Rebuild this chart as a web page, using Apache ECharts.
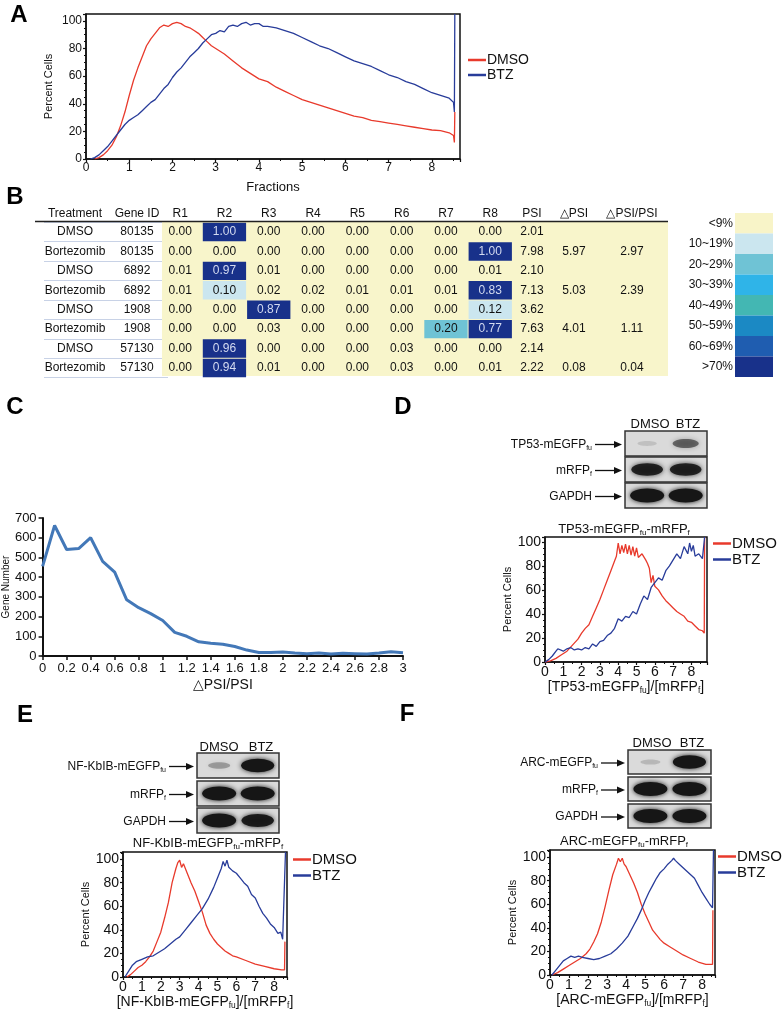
<!DOCTYPE html>
<html>
<head>
<meta charset="utf-8">
<script src="https://cdn.jsdelivr.net/npm/echarts@6/dist/echarts.min.js"></script>
<style>
  html, body { margin: 0; padding: 0; background: #fff; }
  #main { width: 784px; height: 1011px; }
</style>
</head>
<body>
<div id="main"></div>
<script>
// ---------- A: fractions histogram ----------
const aDmso = [[0.2,0],[0.3,1],[0.4,3],[0.5,6],[0.6,10],[0.7,16],[0.8,24],[0.9,34],[1.0,46],[1.1,57],[1.2,66],[1.3,74],[1.4,82],[1.5,87],[1.6,91],[1.7,95],[1.8,97],[1.9,96],[2.0,98],[2.1,99],[2.2,98],[2.3,96],[2.4,95],[2.5,93],[2.6,91],[2.7,88],[2.8,85],[2.9,82],[3.0,80],[3.2,76],[3.4,71],[3.6,66],[3.8,62],[4.0,58],[4.2,56],[4.4,52],[4.6,49],[4.8,46],[5.0,43],[5.2,41],[5.4,39],[5.6,37],[5.8,35],[6.0,33],[6.2,31],[6.4,30],[6.6,28],[6.8,27],[7.0,26],[7.2,25],[7.4,24],[7.6,23],[7.8,22],[8.0,21],[8.2,20.5],[8.4,19],[8.5,17],[8.52,12],[8.53,34]];
const aBtz = [[0.1,0],[0.2,1],[0.3,3],[0.4,6],[0.5,9],[0.6,13],[0.7,17],[0.8,21],[0.9,25],[1.0,28],[1.1,30],[1.2,32],[1.3,35],[1.4,38],[1.5,41],[1.6,43],[1.7,47],[1.8,51],[1.9,54],[2.0,59],[2.1,63],[2.2,66],[2.3,70],[2.4,74],[2.5,77],[2.6,80],[2.7,84],[2.8,87],[2.9,90],[3.0,91],[3.1,93],[3.2,92],[3.3,96],[3.4,97],[3.5,96],[3.6,98],[3.7,99],[3.8,97],[3.9,98],[4.0,98],[4.1,96],[4.2,96],[4.4,95],[4.6,93],[4.8,91],[5.0,88],[5.2,85],[5.4,82],[5.6,80],[5.8,77],[6.0,74],[6.2,71],[6.4,69],[6.6,67],[6.8,64],[7.0,61],[7.2,59],[7.4,56],[7.6,54],[7.8,51],[8.0,48],[8.2,46],[8.4,44],[8.5,41],[8.52,34],[8.53,105]];

// ---------- B: table ----------
const treatments = ['DMSO', 'Bortezomib', 'DMSO', 'Bortezomib', 'DMSO', 'Bortezomib', 'DMSO', 'Bortezomib'];
const geneIds = ['80135', '80135', '6892', '6892', '1908', '1908', '57130', '57130'];
const rCols = ['R1', 'R2', 'R3', 'R4', 'R5', 'R6', 'R7', 'R8'];
const rValues = [
  [0.00, 1.00, 0.00, 0.00, 0.00, 0.00, 0.00, 0.00],
  [0.00, 0.00, 0.00, 0.00, 0.00, 0.00, 0.00, 1.00],
  [0.01, 0.97, 0.01, 0.00, 0.00, 0.00, 0.00, 0.01],
  [0.01, 0.10, 0.02, 0.02, 0.01, 0.01, 0.01, 0.83],
  [0.00, 0.00, 0.87, 0.00, 0.00, 0.00, 0.00, 0.12],
  [0.00, 0.00, 0.03, 0.00, 0.00, 0.00, 0.20, 0.77],
  [0.00, 0.96, 0.00, 0.00, 0.00, 0.03, 0.00, 0.00],
  [0.00, 0.94, 0.01, 0.00, 0.00, 0.03, 0.00, 0.01]
];
const psi = [2.01, 7.98, 2.10, 7.13, 3.62, 7.63, 2.14, 2.22];
const dPsi = [null, 5.97, null, 5.03, null, 4.01, null, 0.08];
const dPsiRatio = [null, 2.97, null, 2.39, null, 1.11, null, 0.04];
const binLabels = ['<9%', '10~19%', '20~29%', '30~39%', '40~49%', '50~59%', '60~69%', '>70%'];

// ---------- C: ΔPSI/PSI distribution ----------
const cRatio = [0, 0.1, 0.2, 0.3, 0.4, 0.5, 0.6, 0.7, 0.8, 0.9, 1.0, 1.1, 1.2, 1.3, 1.4, 1.5, 1.6, 1.7, 1.8, 1.9, 2.0, 2.1, 2.2, 2.3, 2.4, 2.5, 2.6, 2.7, 2.8, 2.9, 3.0];
const cGenes = [455, 662, 540, 545, 600, 480, 425, 285, 245, 215, 180, 120, 100, 72, 65, 60, 48, 30, 18, 18, 20, 15, 12, 15, 10, 14, 12, 10, 15, 22, 17];

// ---------- D / E / F: reporter histograms ----------
const dDmso = [[0,0],[0.3,1],[0.6,3],[0.9,6],[1.2,9],[1.5,14],[1.8,19],[2.0,24],[2.2,28],[2.4,31],[2.6,38],[2.8,45],[3.0,52],[3.2,60],[3.4,68],[3.6,76],[3.8,84],[3.9,88],[4.0,99],[4.1,90],[4.2,97],[4.3,91],[4.4,98],[4.5,90],[4.6,97],[4.7,89],[4.8,96],[4.9,88],[5.0,95],[5.1,87],[5.3,90],[5.5,85],[5.6,82],[5.7,78],[5.8,66],[5.9,72],[6.0,63],[6.2,60],[6.4,55],[6.6,51],[6.8,48],[7.0,45],[7.2,42],[7.4,40],[7.6,38],[7.8,34],[8.0,33],[8.2,30],[8.4,27],[8.6,26],[8.7,24],[8.72,104]];
const dBtz = [[0,0],[0.2,2],[0.4,5],[0.6,9],[0.7,11],[0.8,10],[1.0,9],[1.2,11],[1.4,12],[1.6,10],[1.8,11],[2.0,10],[2.2,12],[2.4,11],[2.6,15],[2.8,13],[3.0,17],[3.2,18],[3.4,22],[3.6,24],[3.8,28],[4.0,36],[4.2,34],[4.4,38],[4.6,37],[4.8,42],[5.0,40],[5.2,48],[5.4,55],[5.6,52],[5.8,62],[6.0,66],[6.2,70],[6.4,68],[6.6,76],[6.8,80],[7.0,85],[7.2,90],[7.4,86],[7.6,96],[7.8,90],[7.9,99],[8.0,92],[8.1,97],[8.2,88],[8.4,90],[8.6,86],[8.7,87],[8.72,104]];
const eDmso = [[0.2,0],[0.4,2],[0.6,5],[0.8,8],[1.0,10],[1.2,13],[1.4,17],[1.6,22],[1.8,30],[2.0,38],[2.2,50],[2.4,63],[2.6,80],[2.8,92],[2.9,97],[3.0,99],[3.1,93],[3.2,96],[3.4,88],[3.6,80],[3.8,73],[4.0,64],[4.2,55],[4.4,44],[4.6,37],[4.8,32],[5.0,28],[5.2,25],[5.4,22],[5.6,20],[5.8,18],[6.0,17],[6.5,14],[7.0,11],[7.5,9],[8.0,7],[8.4,6],[8.55,6],[8.57,30]];
const eBtz = [[0.1,0],[0.3,5],[0.5,10],[0.7,13],[1.0,15],[1.3,17],[1.6,18],[1.9,21],[2.2,24],[2.5,28],[2.8,32],[3.0,34],[3.3,40],[3.6,46],[3.9,52],[4.2,58],[4.5,66],[4.8,76],[5.0,84],[5.2,92],[5.3,98],[5.4,94],[5.5,99],[5.6,93],[5.8,90],[6.0,88],[6.2,84],[6.4,80],[6.6,77],[6.8,70],[7.0,67],[7.2,60],[7.4,54],[7.6,50],[7.8,45],[8.0,42],[8.2,37],[8.35,38],[8.45,32],[8.55,33],[8.6,106]];
const fDmso = [[0.1,0],[0.4,2],[0.7,5],[1.0,8],[1.3,11],[1.6,14],[1.9,18],[2.1,22],[2.3,28],[2.5,35],[2.7,45],[2.9,58],[3.1,72],[3.3,85],[3.5,94],[3.6,99],[3.7,96],[3.8,99],[3.9,94],[4.0,92],[4.2,85],[4.4,78],[4.6,70],[4.8,60],[5.0,52],[5.2,45],[5.4,38],[5.6,34],[5.8,30],[6.0,27],[6.3,24],[6.6,21],[7.0,17],[7.4,14],[7.8,11],[8.2,9],[8.55,9],[8.57,55]];
const fBtz = [[0.1,0],[0.3,4],[0.5,8],[0.7,12],[0.9,14],[1.1,16],[1.3,15],[1.5,16],[1.7,15],[2.0,14],[2.3,13],[2.6,14],[2.9,16],[3.2,18],[3.5,22],[3.8,27],[4.1,33],[4.4,42],[4.6,48],[4.8,55],[5.0,63],[5.2,70],[5.4,76],[5.6,82],[5.8,87],[6.0,90],[6.2,94],[6.4,97],[6.5,99],[6.6,97],[6.8,94],[7.0,91],[7.2,88],[7.4,85],[7.6,82],[7.8,76],[8.0,70],[8.2,65],[8.4,60],[8.55,57],[8.6,106]];

// western blot band strength (rows: reporter, mRFPf, GAPDH; lanes: DMSO, BTZ)
const blotD = [[0.08, 0.5], [0.85, 0.85], [1, 1]];
const blotE = [[0.25, 0.95], [1, 1], [1, 0.9]];
const blotF = [[0.12, 0.95], [1, 1], [1, 1]];

// ---------- style ----------
const font = 'Liberation Sans, Arial, sans-serif';
const red = '#e83a2c';
const blue = '#283c9a';
const ink = '#111';
const subRich = (n, s) => ({
  n: { fontSize: n, fontFamily: font, color: ink },
  s: { fontSize: s, fontFamily: font, color: ink, verticalAlign: 'bottom', padding: [0, 0, -1, 0] }
});

const chart = echarts.init(document.getElementById('main'), null, { renderer: 'canvas' });

function flowX(gi, xmax, fs, name, nameFs, gap) {
  return {
    type: 'value', gridIndex: gi, min: 0, max: xmax, interval: 1,
    axisLine: { show: true, onZero: false, lineStyle: { color: ink, width: 1.5 } },
    axisTick: { show: true, length: 3, lineStyle: { color: ink, width: 1.2 } },
    minorTick: { show: true, splitNumber: 2, length: 2, lineStyle: { color: ink } },
    splitLine: { show: false },
    axisLabel: { fontSize: fs, color: ink, margin: 3, showMaxLabel: false, fontFamily: font },
    name: name, nameLocation: 'middle', nameGap: gap,
    nameTextStyle: { fontSize: nameFs, color: ink, fontFamily: font, rich: subRich(nameFs, nameFs * 0.6) }
  };
}
function flowY(gi, ymax, fs, nameFs, gap) {
  return {
    type: 'value', gridIndex: gi, min: 0, max: ymax, interval: 20,
    axisLine: { show: true, onZero: false, lineStyle: { color: ink, width: 1.5 } },
    axisTick: { show: true, length: 3, lineStyle: { color: ink, width: 1.2 } },
    minorTick: { show: true, splitNumber: 4, length: 2, lineStyle: { color: ink } },
    splitLine: { show: false },
    axisLabel: { fontSize: fs, color: ink, margin: 4, showMaxLabel: false, fontFamily: font },
    name: 'Percent Cells', nameLocation: 'middle', nameGap: gap,
    nameTextStyle: { fontSize: nameFs, color: ink, fontFamily: font }
  };
}
function flowLine(name, gi, data, color) {
  return {
    name: name, type: 'line', xAxisIndex: gi, yAxisIndex: gi, data: data,
    showSymbol: false, symbol: 'none', clip: true,
    lineStyle: { color: color, width: 1.3 }, itemStyle: { color: color }
  };
}
function legendAt(left, top, fs) {
  return {
    left: left, top: top, orient: 'vertical', icon: 'rect', itemWidth: 18, itemHeight: 2.5,
    itemGap: 1, padding: 0, selectedMode: false, data: ['DMSO', 'BTZ'],
    textStyle: { fontSize: fs, color: ink, fontFamily: font, padding: [0, 0, 0, -4] }
  };
}
function tableCatX(gi, cols) {
  return {
    type: 'category', gridIndex: gi, position: 'top', data: cols,
    axisLine: { show: false }, axisTick: { show: false },
    axisLabel: { fontSize: 12, color: ink, margin: 3, fontFamily: font, interval: 0 }
  };
}
function tableCatY(gi, lines) {
  return {
    type: 'category', gridIndex: gi, inverse: true, data: treatments.map((t, i) => i),
    axisLine: { show: false }, axisTick: { show: false }, axisLabel: { show: false },
    splitLine: { show: lines, lineStyle: { color: '#c8d2e6', width: 1 } }
  };
}
function textCells(gi, columns) {
  const data = [];
  columns.forEach((col, c) => col.forEach((v, r) => {
    if (v === null) return;
    data.push({ value: [c, r], name: typeof v === 'number' ? v.toFixed(2) : v });
  }));
  return {
    type: 'scatter', xAxisIndex: gi, yAxisIndex: gi, data: data, symbolSize: 1,
    itemStyle: { color: 'rgba(0,0,0,0)', opacity: 1 },
    label: { show: true, position: 'inside', formatter: '{b}', fontSize: 12, color: ink, fontFamily: font }
  };
}

const rData = [];
rValues.forEach((row, r) => row.forEach((v, c) => rData.push([c, r, v])));

// ---------- decorations: panel letters, blots, titles ----------
const g = [];
function letter(ch, x, y) {
  g.push({ type: 'text', x: x, y: y, z: 100, style: { text: ch, fontSize: 24, fontWeight: 'bold', fontFamily: font, fill: '#000', align: 'center', verticalAlign: 'middle' } });
}
function label(text, x, y, size, align, rich) {
  g.push({ type: 'text', x: x, y: y, z: 100, style: { text: text, fontSize: size, fontFamily: font, fill: ink, align: align || 'center', verticalAlign: 'middle', rich: rich } });
}
function arrow(x1, x2, y) {
  g.push({ type: 'line', z: 100, shape: { x1: x1, y1: y, x2: x2 - 5, y2: y }, style: { stroke: ink, lineWidth: 1.3 } });
  g.push({ type: 'polygon', z: 100, shape: { points: [[x2 - 8, y - 3.5], [x2, y], [x2 - 8, y + 3.5]] }, style: { fill: ink } });
}
function blot(x, w, tops, h, bands, lanes) {
  tops.forEach((t, r) => {
    g.push({ type: 'rect', z: 100, shape: { x: x, y: t, width: w, height: h }, style: { fill: '#dadada', stroke: '#333', lineWidth: 1.5 } });
    bands[r].forEach((a, l) => {
      g.push({
        type: 'ellipse', z: 101,
        shape: { cx: x + lanes[l] * w, cy: t + h / 2, rx: 9 + 8 * a, ry: 2 + 5 * a },
        style: { fill: 'rgba(22,22,22,' + Math.min(1, a + 0.05) + ')', shadowBlur: 5, shadowColor: 'rgba(22,22,22,' + a + ')' }
      });
    });
  });
}
function blotPanel(cfg) {
  label('DMSO', cfg.dmsoX, cfg.headY, 13);
  label('BTZ', cfg.btzX, cfg.headY, 13);
  blot(cfg.x, cfg.w, cfg.tops, cfg.h, cfg.bands, [0.27, 0.74]);
  const names = [cfg.reporter, '{n|mRFP}{s|f}', '{n|GAPDH}'];
  names.forEach((n, i) => {
    label(n, cfg.textRight, cfg.tops[i] + cfg.h / 2 + 1, 12, 'right', subRich(12, 7));
    arrow(cfg.textRight + 3, cfg.x - 3, cfg.tops[i] + cfg.h / 2 + 1);
  });
  label(cfg.title, cfg.titleX, cfg.titleY, 13, 'center', subRich(13, 8));
}

letter('A', 19, 15);
letter('B', 15, 197);
letter('C', 15, 407);
letter('D', 403, 407);
letter('E', 25, 715);
letter('F', 407, 714);

// table background + header rule
g.push({ type: 'rect', z: 1, shape: { x: 162, y: 222, width: 506, height: 154 }, style: { fill: '#f8f5cb' } });
g.push({ type: 'line', z: 100, shape: { x1: 35, y1: 221.5, x2: 668, y2: 221.5 }, style: { stroke: '#222', lineWidth: 1.5 } });

blotPanel({ dmsoX: 650, btzX: 688, headY: 424, x: 625, w: 82, tops: [431, 457, 483], h: 25, bands: blotD,
  textRight: 592, reporter: '{n|TP53-mEGFP}{s|fu}', title: '{n|TP53-mEGFP}{s|fu}{n|-mRFP}{s|f}', titleX: 624, titleY: 529 });
blotPanel({ dmsoX: 219, btzX: 261, headY: 747, x: 197, w: 82, tops: [753, 781, 808], h: 25, bands: blotE,
  textRight: 166, reporter: '{n|NF-KbIB-mEGFP}{s|fu}', title: '{n|NF-KbIB-mEGFP}{s|fu}{n|-mRFP}{s|f}', titleX: 208, titleY: 843 });
blotPanel({ dmsoX: 652, btzX: 692, headY: 743, x: 628, w: 83, tops: [750, 777, 804], h: 24, bands: blotF,
  textRight: 598, reporter: '{n|ARC-mEGFP}{s|fu}', title: '{n|ARC-mEGFP}{s|fu}{n|-mRFP}{s|f}', titleX: 624, titleY: 841 });

const option = {
  animation: false,
  backgroundColor: '#fff',
  textStyle: { fontFamily: font },
  grid: [
    { left: 86, top: 14, width: 374, height: 145, show: true, borderColor: ink, borderWidth: 1.5, backgroundColor: 'transparent' }, // A
    { left: 44, top: 222.3, width: 124, height: 155.4 },   // table: treatment / gene id
    { left: 158, top: 222.3, width: 354.4, height: 155.4 }, // table: R1..R8
    { left: 516, top: 222.3, width: 32, height: 155.4 },    // table: PSI
    { left: 545, top: 222.3, width: 116, height: 155.4 },   // table: ΔPSI, ΔPSI/PSI
    { left: 42, top: 518, width: 361, height: 138 },        // C
    { left: 545, top: 537, width: 162, height: 125, show: true, borderColor: ink, borderWidth: 1.5, backgroundColor: 'transparent' }, // D
    { left: 123, top: 852, width: 164, height: 125, show: true, borderColor: ink, borderWidth: 1.5, backgroundColor: 'transparent' }, // E
    { left: 550, top: 850, width: 165, height: 125, show: true, borderColor: ink, borderWidth: 1.5, backgroundColor: 'transparent' }  // F
  ],
  xAxis: [
    flowX(0, 8.65, 12, 'Fractions', 13, 22),
    tableCatX(1, ['Treatment', 'Gene ID']),
    tableCatX(2, rCols),
    tableCatX(3, ['PSI']),
    tableCatX(4, ['△PSI', '△PSI/PSI']),
    {
      type: 'value', gridIndex: 5, min: 0, max: 3, interval: 0.2,
      axisLine: { show: true, onZero: false, lineStyle: { color: ink, width: 2 } },
      axisTick: { show: true, length: 4, lineStyle: { color: ink, width: 1.5 } },
      splitLine: { show: false },
      axisLabel: { fontSize: 13, color: ink, margin: 6, fontFamily: font },
      name: '△PSI/PSI', nameLocation: 'middle', nameGap: 22,
      nameTextStyle: { fontSize: 14, color: ink, fontFamily: font }
    },
    flowX(6, 8.85, 14, '{n|[TP53-mEGFP}{s|fu}{n|]/[mRFP}{s|f}{n|]}', 14, 14),
    flowX(7, 8.68, 14, '{n|[NF-KbIB-mEGFP}{s|fu}{n|]/[mRFP}{s|f}{n|]}', 14, 16),
    flowX(8, 8.68, 14, '{n|[ARC-mEGFP}{s|fu}{n|]/[mRFP}{s|f}{n|]}', 14, 16)
  ],
  yAxis: [
    flowY(0, 105, 12, 11, 32),
    tableCatY(1, true),
    tableCatY(2, false),
    tableCatY(3, false),
    tableCatY(4, false),
    {
      type: 'value', gridIndex: 5, min: 0, max: 700, interval: 100,
      axisLine: { show: true, onZero: false, lineStyle: { color: ink, width: 2 } },
      axisTick: { show: true, length: 4, lineStyle: { color: ink, width: 1.5 } },
      splitLine: { show: false },
      axisLabel: { fontSize: 13, color: ink, margin: 6, fontFamily: font },
      name: 'Gene Number', nameLocation: 'middle', nameGap: 28,
      nameTextStyle: { fontSize: 10, color: ink, fontFamily: font }
    },
    flowY(6, 104, 14, 11, 25),
    flowY(7, 106, 14, 11, 29),
    flowY(8, 106, 14, 11, 26)
  ],
  legend: [
    legendAt(468, 53, 14),
    legendAt(713, 536, 15),
    legendAt(293, 852, 15),
    legendAt(718, 849, 15)
  ],
  visualMap: {
    type: 'piecewise', seriesIndex: 3, dimension: 2, orient: 'vertical', inverse: true,
    right: 11, top: 213, padding: 0, itemWidth: 38, itemHeight: 20.5, itemGap: 0, textGap: 2,
    itemSymbol: 'rect', align: 'right', selectedMode: false, hoverLink: false,
    textStyle: { fontSize: 12, color: ink, fontFamily: font },
    pieces: [
      { lt: 0.1, label: binLabels[0], color: '#f8f4c8' },
      { gte: 0.1, lt: 0.2, label: binLabels[1], color: '#cbe6ef' },
      { gte: 0.2, lt: 0.3, label: binLabels[2], color: '#6fc3d5' },
      { gte: 0.3, lt: 0.4, label: binLabels[3], color: '#2fb4e8' },
      { gte: 0.4, lt: 0.5, label: binLabels[4], color: '#43b7b3' },
      { gte: 0.5, lt: 0.6, label: binLabels[5], color: '#1b89c4' },
      { gte: 0.6, lt: 0.7, label: binLabels[6], color: '#1f5db0' },
      { gte: 0.7, label: binLabels[7], color: '#18318a' }
    ]
  },
  graphic: g,
  series: [
    flowLine('DMSO', 0, aDmso, red),
    flowLine('BTZ', 0, aBtz, blue),
    textCells(1, [treatments, geneIds]),
    {
      type: 'custom', xAxisIndex: 2, yAxisIndex: 2, data: rData,
      renderItem: function (params, api) {
        const p = api.coord([api.value(0), api.value(1)]);
        const s = api.size([1, 1]);
        const v = api.value(2);
        const kids = [];
        if (v >= 0.1) {
          kids.push({ type: 'rect', shape: { x: p[0] - s[0] / 2 + 0.5, y: p[1] - s[1] / 2 + 0.5, width: s[0] - 1, height: s[1] - 1 }, style: { fill: api.visual('color') } });
        }
        kids.push({ type: 'text', style: { text: v.toFixed(2), x: p[0], y: p[1], align: 'center', verticalAlign: 'middle', fontSize: 12, fontFamily: font, fill: v >= 0.7 ? '#d3daf0' : ink } });
        return { type: 'group', children: kids };
      }
    },
    textCells(3, [psi]),
    textCells(4, [dPsi, dPsiRatio]),
    {
      type: 'line', xAxisIndex: 5, yAxisIndex: 5, data: cRatio.map((x, i) => [x, cGenes[i]]),
      symbol: 'none', lineStyle: { color: '#4378b8', width: 3 }, itemStyle: { color: '#4378b8' }
    },
    flowLine('DMSO', 6, dDmso, red),
    flowLine('BTZ', 6, dBtz, blue),
    flowLine('DMSO', 7, eDmso, red),
    flowLine('BTZ', 7, eBtz, blue),
    flowLine('DMSO', 8, fDmso, red),
    flowLine('BTZ', 8, fBtz, blue)
  ]
};
chart.setOption(option);
</script>
</body>
</html>
